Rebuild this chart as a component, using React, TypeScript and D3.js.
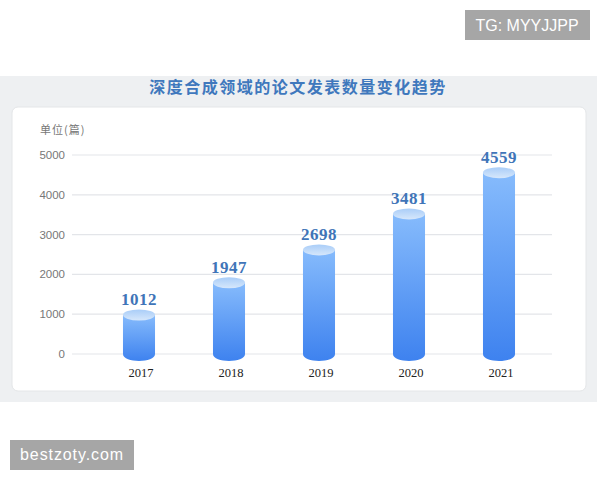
import * as d3 from 'd3';

const years = ['2017', '2018', '2019', '2020', '2021'];
const papers = [1012, 1947, 2698, 3481, 4559];
// the drawn cylinders sit a little off their printed labels, so heights are read separately
const barLevels = [980, 1790, 2615, 3520, 4555];
const yTicks = [0, 1000, 2000, 3000, 4000, 5000];

const chartTitle = '深度合成领域的论文发表数量变化趋势';
const unitLabel = '单位(篇)';
const tagTop = 'TG: MYYJJPP';
const tagBottom = 'bestzoty.com';

const cjkSans = '"Noto Sans CJK SC", "Noto Sans", sans-serif';
const numSerif = '"Liberation Serif", "DejaVu Serif", serif';
const latinSans = '"Liberation Sans", sans-serif';

export default function App() {
  const x = d3.scaleBand<string>().domain(years).range([94, 544]).paddingInner(0.644).paddingOuter(0.322);
  const y = d3.scaleLinear().domain([0, 5000]).range([354, 155]);
  const barW = x.bandwidth();
  const ryTop = 5.5;
  const ryBottom = 7;

  return (
    <svg
      width={600}
      height={480}
      viewBox="0 0 600 480"
      style={{ position: 'fixed', left: 0, top: 0, background: '#fff' }}
    >
      <defs>
        <linearGradient id="barFill" x1="0" y1="0" x2="0" y2="1">
          <stop offset="0%" stopColor="#86bbfc" />
          <stop offset="100%" stopColor="#3e82ef" />
        </linearGradient>
        <linearGradient id="capFill" x1="0" y1="0" x2="0" y2="1">
          <stop offset="0%" stopColor="#a9cdf8" />
          <stop offset="100%" stopColor="#d6e7fb" />
        </linearGradient>
      </defs>

      {/* panel + card */}
      <rect x={0} y={76} width={597} height={326} fill="#eef0f2" />
      <rect x={12} y={107} width={574} height={284} rx={6} fill="#fff" stroke="#e4e6e8" />

      <text
        x={298}
        y={93}
        textAnchor="middle"
        fontFamily={cjkSans}
        fontWeight={700}
        fontSize={16}
        letterSpacing={1.5}
        fill="#3f78bd"
      >
        {chartTitle}
      </text>
      <text x={40} y={134} fontFamily={cjkSans} fontSize={11} letterSpacing={1} fill="#777">
        {unitLabel}
      </text>

      {/* y axis */}
      {yTicks.map(t => (
        <g key={t}>
          <line x1={72} x2={552} y1={y(t)} y2={y(t)} stroke="#e3e5e9" strokeWidth={1.2} />
          <text x={65} y={y(t) + 4} textAnchor="end" fontFamily={latinSans} fontSize={11.5} fill="#777">
            {t}
          </text>
        </g>
      ))}

      {/* cylinders */}
      {years.map((yr, i) => {
        const left = x(yr) as number;
        const cx = left + barW / 2;
        const top = y(barLevels[i]);
        const base = y(0);
        const body = d3.path();
        body.moveTo(left, top);
        body.lineTo(left, base);
        body.bezierCurveTo(left, base + ryBottom * 1.33, left + barW, base + ryBottom * 1.33, left + barW, base);
        body.lineTo(left + barW, top);
        body.closePath();
        return (
          <g key={yr}>
            <path d={body.toString()} fill="url(#barFill)" />
            <ellipse cx={cx} cy={top} rx={barW / 2} ry={ryTop} fill="url(#capFill)" />
            <text
              x={cx}
              y={top - 10}
              textAnchor="middle"
              fontFamily={numSerif}
              fontWeight={700}
              fontSize={17}
              letterSpacing={0.5}
              fill="#3f75b8"
            >
              {papers[i]}
            </text>
            <text x={cx + 2} y={377} textAnchor="middle" fontFamily={numSerif} fontSize={12.5} fill="#222">
              {yr}
            </text>
          </g>
        );
      })}

      {/* corner tags */}
      <rect x={465} y={10} width={125} height={30} fill="#a6a6a6" />
      <text x={527} y={31} textAnchor="middle" fontFamily={latinSans} fontSize={16} fill="#fff">
        {tagTop}
      </text>
      <rect x={10} y={440} width={124} height={30} fill="#a6a6a6" />
      <text x={72} y={460} textAnchor="middle" fontFamily={latinSans} fontSize={16} letterSpacing={0.9} fill="#fff">
        {tagBottom}
      </text>
    </svg>
  );
}
